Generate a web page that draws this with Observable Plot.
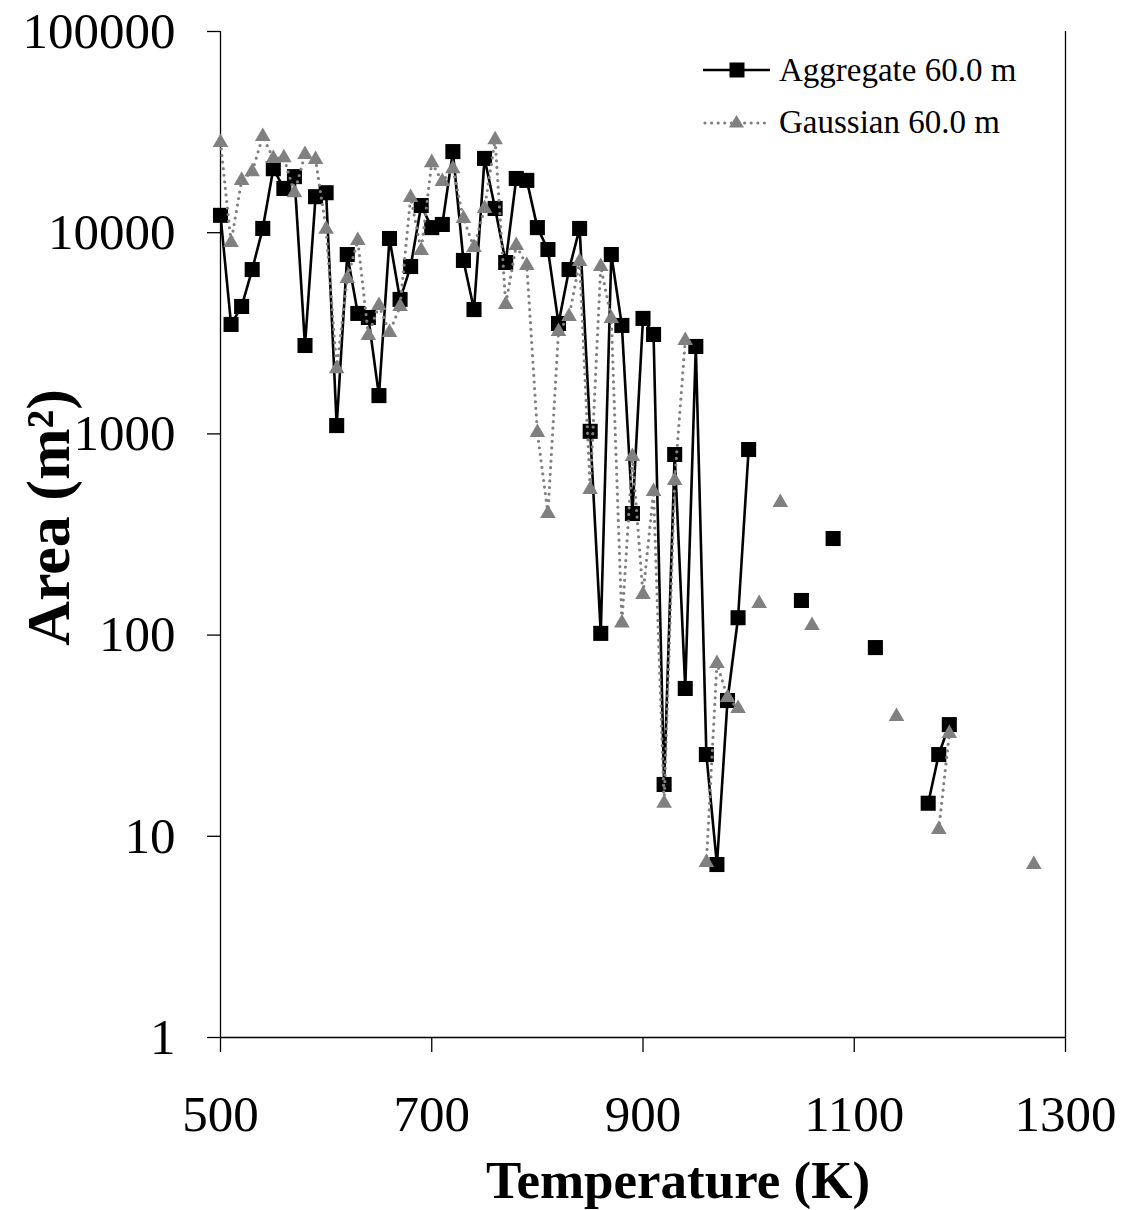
<!DOCTYPE html>
<html>
<head>
<meta charset="utf-8">
<script src="https://cdn.jsdelivr.net/npm/d3@7"></script>
<script src="https://cdn.jsdelivr.net/npm/@observablehq/plot@0.6"></script>
<style>
  html, body { margin: 0; padding: 0; background: #fff; }
  #wrap { position: relative; width: 1127px; height: 1210px; }
  #wrap svg.plot { position: absolute; left: 0; top: 0; }
  .legend { position: absolute; left: 703px; font-family: "Liberation Serif", "Times New Roman", serif; font-size: 33px; color: #000; }
  .legend .row { position: absolute; left: 0; display: flex; align-items: center; white-space: nowrap; height: 40px; }
  .legend svg { margin-right: 9px; }
</style>
</head>
<body>
<div id="wrap"></div>
<script>
// ---- data ----
const aggTemp = [500,510,520,530,540,550,560,570,580,590,600,610,620,630,640,650,660,670,680,690,
  700,710,720,730,740,750,760,770,780,790,800,810,820,830,840,850,860,870,880,890,
  900,910,920,930,940,950,960,970,980,990,1000,1050,1080,1120,1170,1180,1190];
const aggArea = [12200,3500,4300,6560,10500,20800,16600,19000,2750,15100,15800,1100,7790,3970,3790,1550,9360,4660,6790,13650,
  10600,10990,25300,7280,4150,23400,13200,7110,18600,18200,10600,8250,3540,6560,10500,1030,102,7790,3460,402,
  3750,3120,18.1,790,54.3,2720,25.5,7.24,47.3,122,836,148.6,302,86.7,14.6,25.5,35.9];

const gaussTemp = [500,510,520,530,540,550,560,570,580,590,600,610,620,630,640,650,660,670,680,690,
  700,710,720,730,740,750,760,770,780,790,800,810,820,830,840,850,860,870,880,890,
  900,910,920,930,940,960,970,980,990,1010,1030,1060,1140,1180,1190,1270];
const gaussArea = [28100,8940,18200,20100,30100,23400,23600,15800,24500,23100,10400,2110,5920,9150,3080,4350,3190,4300,14960,8150,
  22300,17960,20800,11770,8440,13200,29000,4400,8640,6870,1016,402,3230,3830,7190,529,6790,3750,115,772,
  159,517,14.6,587,2910,7.4,72.3,49,43.2,143.6,456,111.6,39.4,10.8,32.4,7.24];

const xTicks = [500, 700, 900, 1100, 1300];
const yTicks = [1, 10, 100, 1000, 10000, 100000];
const seriesNames = ["Aggregate 60.0 m", "Gaussian 60.0 m"];
const xTitle = "Temperature (K)";
const yTitle = "Area (m\u00B2)";

// build tables; a new segment starts where a 10 K step is missing
function table(temps, areas) {
  let seg = 0;
  return temps.map((t, i) => {
    if (i > 0 && t - temps[i - 1] > 10) seg++;
    return {t, v: areas[i], seg};
  });
}
const agg = table(aggTemp, aggArea);
const gauss = table(gaussTemp, gaussArea);

const serif = "'Liberation Serif', 'Times New Roman', serif";
const fmt = d => String(d);

const chart = Plot.plot({
  width: 1127,
  height: 1210,
  marginLeft: 220,
  marginRight: 62,
  marginTop: 31,
  marginBottom: 173,
  style: {fontFamily: serif, fontSize: "51px", color: "#000", background: "#fff", overflow: "visible"},
  x: {domain: [500, 1300]},
  y: {type: "log", domain: [1, 100000]},
  marks: [
    Plot.axisX({ticks: xTicks, tickFormat: fmt, tickSize: 15, tickPadding: 42, fontSize: 51, label: null, strokeWidth: 1.3}),
    Plot.axisY({ticks: yTicks, tickFormat: fmt, tickSize: 13, tickPadding: 32, fontSize: 51, label: null, strokeWidth: 1.3}),
    Plot.ruleX([500], {stroke: "#000", strokeWidth: 1.3}),
    Plot.ruleX([1300], {stroke: "#000", strokeWidth: 1.3}),
    Plot.ruleY([1], {stroke: "#000", strokeWidth: 1.3}),
    Plot.line(agg, {x: "t", y: "v", z: "seg", stroke: "#000", strokeWidth: 2.6}),
    Plot.dot(agg, {x: "t", y: "v", symbol: "square", r: 8.5, fill: "#000", stroke: "none"}),
    Plot.line(gauss, {x: "t", y: "v", z: "seg", stroke: "#808080", strokeWidth: 3.2, strokeDasharray: "0 6.6", strokeLinecap: "round"}),
    Plot.dot(gauss, {x: "t", y: "v", symbol: "triangle", r: 5.8, fill: "#808080", stroke: "none"}),
    Plot.text([xTitle], {frameAnchor: "bottom", dx: 35, dy: 144, text: d => d, fontSize: 53, fontWeight: "bold", fontFamily: serif, textAnchor: "middle", lineAnchor: "middle"}),
    Plot.text([yTitle], {frameAnchor: "left", dx: -171, dy: -17, rotate: -90, text: d => d, fontSize: 62, fontWeight: "bold", fontFamily: serif, textAnchor: "middle", lineAnchor: "middle"})
  ]
});
chart.classList.add("plot");
const wrap = document.getElementById("wrap");
wrap.appendChild(chart);

// legend (inside the plot area, top right)
const legend = document.createElement("div");
legend.className = "legend";
legend.innerHTML = `
  <div class="row" style="top:50px">
    <svg width="67" height="20"><line x1="0" y1="10" x2="67" y2="10" stroke="#000" stroke-width="2.6"/><rect x="26.5" y="2.5" width="15" height="15" fill="#000"/></svg>
    <span>${seriesNames[0]}</span>
  </div>
  <div class="row" style="top:102px">
    <svg width="67" height="20"><line x1="2" y1="11" x2="66" y2="11" stroke="#808080" stroke-width="3.2" stroke-dasharray="0 6.6" stroke-linecap="round"/><path d="M33.5,3 L41,15.5 L26,15.5 Z" fill="#808080"/></svg>
    <span>${seriesNames[1]}</span>
  </div>`;
wrap.appendChild(legend);
</script>
</body>
</html>
